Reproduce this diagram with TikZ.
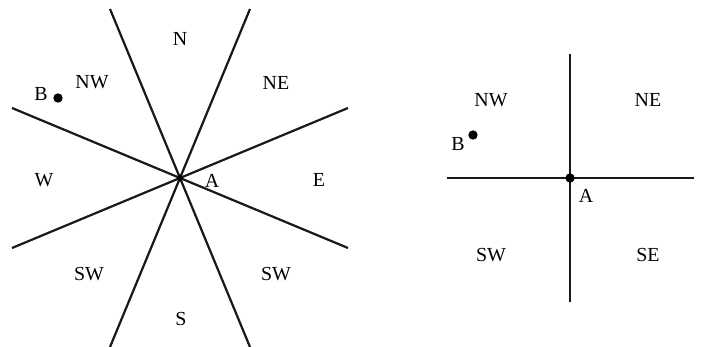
\documentclass[tikz,border=0pt]{standalone}
\usepackage{fontspec}
\setmainfont{Liberation Serif}
\usetikzlibrary{positioning}
\begin{document}
\begin{tikzpicture}[x=0.03cm,y=-0.03cm,
    sector/.style={inner sep=0pt,font=\fontsize{17}{20}\selectfont},
    bound/.style={line width=1.9pt,black!90},
    spot/.style={circle,fill=black,inner sep=0pt,minimum size=#1},
    spot/.default=8pt]
    % Canvas
    \useasboundingbox (0,0) rectangle (701,347);
    % Eight sectors
    \coordinate (A8) at (180,178);
    \coordinate (nA) at (110,9);   \coordinate (sA) at (250,347);
    \coordinate (nB) at (250,9);   \coordinate (sB) at (110,347);
    \coordinate (wA) at (12,108);  \coordinate (eA) at (348,248);
    \coordinate (wB) at (12,248);  \coordinate (eB) at (348,108);
    \draw[bound] (nA) -- (sA);
    \draw[bound] (nB) -- (sB);
    \draw[bound] (wA) -- (eA);
    \draw[bound] (wB) -- (eB);
    \node[spot=5pt] (dA8) at (A8) {};
    \node[sector] (lN)  at (180,39)  {N};
    \node[sector] (lNE) at (276,83)  {NE};
    \node[sector] (lE)  at (319,180) {E};
    \node[sector] (lW)  at (44,180)  {W};
    \node[sector] (lNW) at (92,82)   {NW};
    \node[sector] (lSW) at (89,274)  {SW};
    \node[sector] (lSE) at (276,274) {SW};
    \node[sector] (lS)  at (181,319) {S};
    \node[sector] (lA)  at (212,181) {A};
    \node[sector] (lB)  at (41,94)   {B};
    \node[spot] (dB) at (58,98) {};
    % Four quadrants
    \coordinate (A4) at (570,178);
    \coordinate (qN) at (570,54);  \coordinate (qS) at (570,302);
    \coordinate (qW) at (447,178); \coordinate (qE) at (694,178);
    \draw[bound] (qN) -- (qS);
    \draw[bound] (qW) -- (qE);
    \node[spot] (dA4) at (A4) {};
    \node[sector] (rNW) at (491,100) {NW};
    \node[sector] (rNE) at (648,100) {NE};
    \node[sector] (rSW) at (491,255) {SW};
    \node[sector] (rSE) at (648,255) {SE};
    \node[sector] (rA)  at (586,196) {A};
    \node[sector] (rB)  at (458,144) {B};
    \node[spot] (dB4) at (473,135) {};
\end{tikzpicture}
\end{document}
